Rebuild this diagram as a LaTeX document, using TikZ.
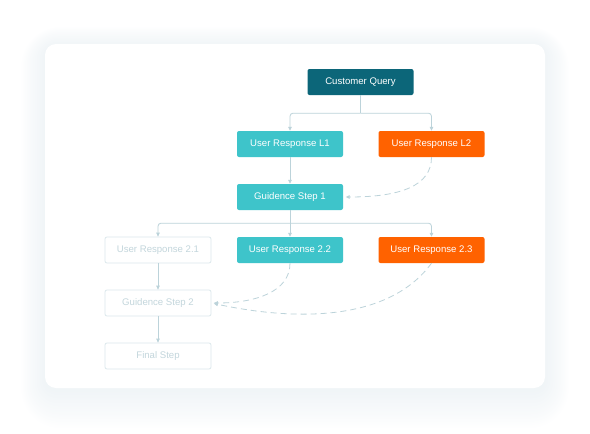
\documentclass[tikz,border=0pt]{standalone}
\usepackage{fontspec}
\setmainfont{Liberation Sans}
\usetikzlibrary{arrows.meta}
\definecolor{darkteal}{HTML}{0C6679}
\definecolor{teal}{HTML}{3EC4CA}
\definecolor{orng}{HTML}{FF6200}
\definecolor{fadeline}{HTML}{DCE8EC}
\definecolor{fadetext}{HTML}{C3D6DC}
\definecolor{conn}{HTML}{BCD3DA}
\definecolor{shadowc}{HTML}{D0DEE6}
\tikzset{
  box/.style={rectangle, rounded corners=2pt, minimum width=106pt, minimum height=26pt, inner sep=0pt, font=\fontsize{9.6}{11}\selectfont},
  dkbox/.style={box, fill=darkteal, text=white},
  tlbox/.style={box, fill=teal, text=white},
  orbox/.style={box, fill=orng, text=white},
  fdbox/.style={box, fill=white, draw=fadeline, line width=0.8pt, text=fadetext},
  conline/.style={draw=conn, line width=0.8pt, -{Triangle[length=4pt,width=3.6pt]}, rounded corners=3pt},
  plainline/.style={draw=conn, line width=0.8pt},
  dashline/.style={draw=conn, line width=0.8pt, dash pattern=on 6pt off 4pt, -{Triangle[length=4pt,width=3.6pt]}, shorten >=2.5pt}
}
\begin{document}
\begin{tikzpicture}[x=1pt,y=-1pt]
\useasboundingbox (0,0) rectangle (590,434);
% card shadow
\foreach \i in {1,...,24}{
  \fill[shadowc, opacity=0.016, rounded corners={11pt+1.2pt*\i}] (45-1.0*\i,46-0.8*\i) rectangle (545+1.0*\i,390+1.6*\i);
}
\fill[white, rounded corners=11pt] (45,44) rectangle (545,388);
% nodes
\node[dkbox] (cq) at (360.5,82) {Customer Query};
\node[tlbox] (l1) at (290,144) {User Response L1};
\node[orbox] (l2) at (431.5,144) {User Response L2};
\node[tlbox] (g1) at (290,197) {Guidence Step 1};
\node[fdbox] (r21) at (158,250) {User Response 2.1};
\node[tlbox] (r22) at (290,250) {User Response 2.2};
\node[orbox] (r23) at (431.5,250) {User Response 2.3};
\node[fdbox] (g2) at (158,303) {Guidence Step 2};
\node[fdbox] (fs) at (158,356) {Final Step};
\coordinate (j1) at ([yshift=-18pt]cq.south);
\coordinate (j2) at ([yshift=-13pt]g1.south);
% connectors
\draw[plainline] (cq.south) -- (j1);
\draw[conline] (j1) -| (l1.north);
\draw[conline] (j1) -| (l2.north);
\draw[conline] (l1.south) -- (g1.north);
\draw[conline] (j2) -| (r21.north);
\draw[conline] (g1.south) -- (r22.north);
\draw[conline] (j2) -| (r23.north);
\draw[conline] (r21.south) -- (g2.north);
\draw[conline] (g2.south) -- (fs.north);
\draw[dashline] (l2.south) .. controls (431.5,186) and (400,197) .. (g1.east);
\draw[dashline] (r22.south) .. controls (290,292) and (255,303) .. (g2.east);
\draw[dashline] (r23.south) .. controls (390,320) and (300,322) .. (g2.east);
\end{tikzpicture}
\end{document}
